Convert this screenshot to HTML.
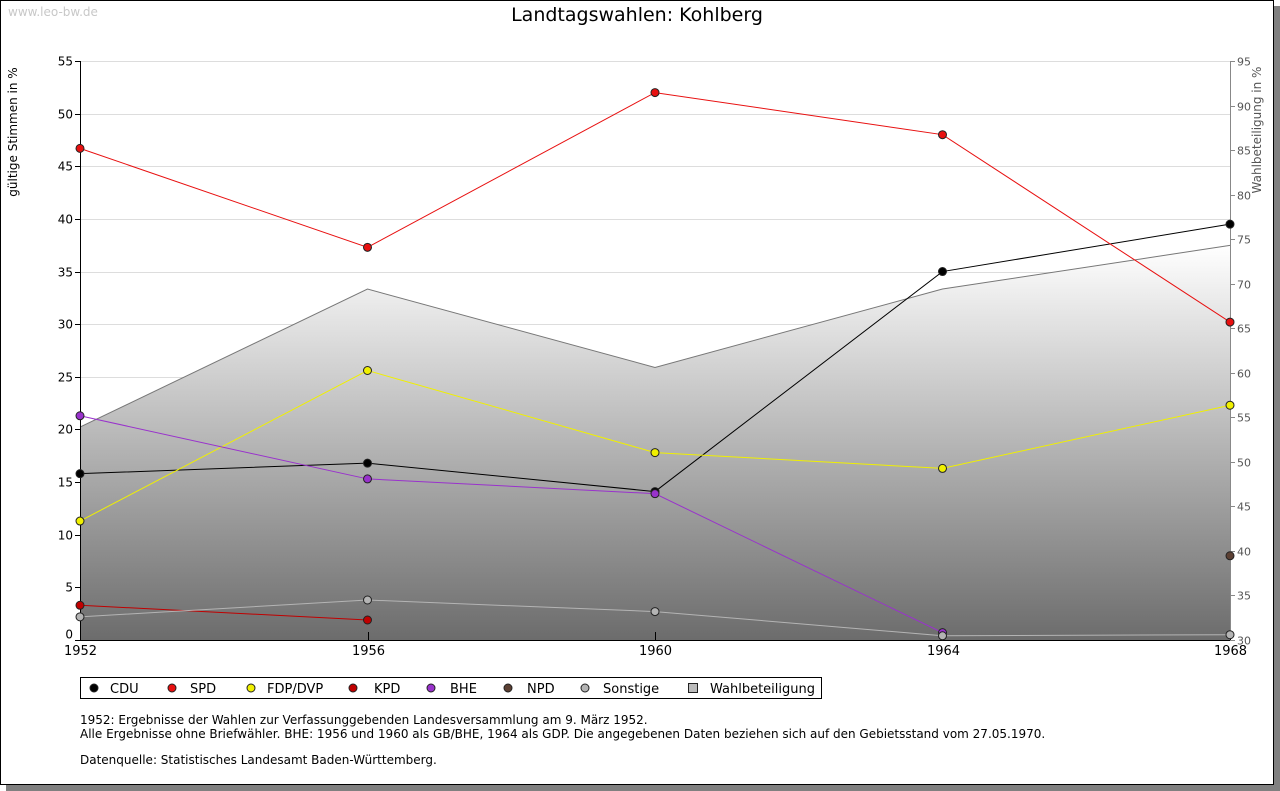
<!DOCTYPE html>
<html><head><meta charset="utf-8"><style>
body{margin:0;background:#fff;width:1280px;height:791px;overflow:hidden}
svg{display:block;font-family:"DejaVu Sans","Liberation Sans",sans-serif}
</style></head><body>
<svg id="c" width="1280" height="791">
<defs><linearGradient id="g" x1="0" y1="0" x2="0" y2="1">
<stop offset="0" stop-color="#ffffff"/><stop offset="1" stop-color="#6c6c6c"/></linearGradient></defs>
<rect x="6" y="6" width="1274" height="785" fill="#808080"/>
<rect x="0.5" y="0.5" width="1273" height="784" fill="#fff" stroke="#000"/>
<text x="8" y="16" font-size="12" fill="#c8c8c8">www.leo-bw.de</text>
<text x="637" y="21" font-size="19" text-anchor="middle">Landtagswahlen: Kohlberg</text>
<text transform="translate(17,132) rotate(-90)" font-size="12" text-anchor="middle">gültige Stimmen in %</text>
<text transform="translate(1261,130) rotate(-90)" font-size="12" text-anchor="middle" fill="#555">Wahlbeteiligung in %</text>
<g id="plot"></g>
<g>
<rect x="80.5" y="677.5" width="741" height="21" fill="#fff" stroke="#000"/>
</g>
<g id="leg"></g>
<text x="80" y="724" font-size="12">1952: Ergebnisse der Wahlen zur Verfassunggebenden Landesversammlung am 9. März 1952.</text>
<text x="80" y="738" font-size="12">Alle Ergebnisse ohne Briefwähler. BHE: 1956 und 1960 als GB/BHE, 1964 als GDP. Die angegebenen Daten beziehen sich auf den Gebietsstand vom 27.05.1970.</text>
<text x="80" y="764" font-size="12">Datenquelle: Statistisches Landesamt Baden-Württemberg.</text>
</svg>
<script>
const years=[1952,1956,1960,1964,1968];
const leftTicks=[0,5,10,15,20,25,30,35,40,45,50,55];
const rightTicks=[30,35,40,45,50,55,60,65,70,75,80,85,90,95];
const cdu=[15.8,16.8,14.1,35.0,39.5];
const spd=[46.7,37.3,52.0,48.0,30.2];
const fdp=[11.3,25.6,17.8,16.3,22.3];
const kpd=[3.3,1.9,null,null,null];
const bhe=[21.3,15.3,13.9,0.7,null];
const npd=[null,null,null,null,8.0];
const sonst=[2.2,3.8,2.7,0.4,0.5];
const turnout=[53.9,69.4,60.6,69.4,74.3];
const series=[["CDU",cdu,"#000"],["SPD",spd,"#e81010"],["FDP/DVP",fdp,"#f0f000"],["KPD",kpd,"#c00000"],["BHE",bhe,"#9932cc"],["NPD",npd,"#5c4033"],["Sonstige",sonst,"#b4b4b4"]];
const X0=80,X1=1230,Y0=640,Y1=61;
const x=y=>X0+(y-1952)/(1968-1952)*(X1-X0);
const yl=v=>Y0-v/55*(Y0-Y1);
const yr=v=>Y0-(v-30)/65*(Y0-Y1);
const NS="http://www.w3.org/2000/svg";
const P=document.getElementById('plot');
function mk(t,a,p){const e=document.createElementNS(NS,t);for(const k in a)e.setAttribute(k,a[k]);(p||P).appendChild(e);return e;}
leftTicks.forEach(t=>{const yy=Math.round(yl(t))+.5;
 if(t>0){const l=mk('line',{x1:X0,x2:X1,y1:yy,y2:yy,stroke:'#ddd'});}
 mk('line',{x1:X0-5,x2:X0,y1:yy,y2:yy,stroke:'#000'});
 const tx=mk('text',{x:X0-7,y:yy+(t===0?-2:4),'font-size':12,'text-anchor':'end'});tx.textContent=t;
 });
rightTicks.forEach(t=>{const yy=Math.round(yr(t))+.5;
 mk('line',{x1:X1,x2:X1+5,y1:yy,y2:yy,stroke:'#888'});
 const tx=mk('text',{x:X1+7,y:yy+4,'font-size':11,fill:'#555'});tx.textContent=t;
 });
let d='M'+x(years[0])+','+Y0;years.forEach((yv,i)=>d+=' L'+x(yv)+','+yr(turnout[i]));d+=' L'+x(years[4])+','+Y0+'Z';
const area=mk('path',{d:d,fill:'url(#g)'});

const tl=mk('polyline',{points:years.map((yv,i)=>x(yv)+','+yr(turnout[i])).join(' '),fill:'none',stroke:'#777'});

mk('line',{x1:X0+.5,x2:X0+.5,y1:Y1,y2:Y0,stroke:'#000'});
mk('line',{x1:X1+.5,x2:X1+.5,y1:Y1,y2:Y0,stroke:'#888'});
mk('line',{x1:X0,x2:X1,y1:Y0+.5,y2:Y0+.5,stroke:'#000'});
years.forEach(yv=>{const xx=Math.round(x(yv))+.5;mk('line',{x1:xx,x2:xx,y1:Y0-8,y2:Y0,stroke:'#000'});
 const tx=mk('text',{x:xx,y:Y0+15,'font-size':13,'text-anchor':'middle'});tx.textContent=yv;
 });
series.forEach(([n,v,c])=>{const g=mk('g',{});
 let seg=[];const flush=()=>{if(seg.length>1)mk('polyline',{points:seg.join(' '),fill:'none',stroke:c},g);seg=[];};
 v.forEach((val,i)=>{if(val==null){flush();return;}seg.push(x(years[i])+','+yl(val));});flush();
 v.forEach((val,i)=>{if(val==null)return;const p=mk('circle',{cx:x(years[i]),cy:yl(val),r:4,fill:c,stroke:'#222'},g);
  });});
const L=document.getElementById('leg');
const lx=[94,172,251,353,431,508,585],tx=[110,190,267,374,450,527,603];
series.forEach(([n,v,c],i)=>{const g=mk('g',{},L);
 mk('circle',{cx:lx[i],cy:688,r:4,fill:c,stroke:'#222'},g);const t=mk('text',{x:tx[i],y:693,'font-size':13},g);t.textContent=n;});
const g2=mk('g',{},L);
mk('rect',{x:688.5,y:683.5,width:9,height:9,fill:'#bbb',stroke:'#222'},g2);const t2=mk('text',{x:710,y:693,'font-size':13},g2);t2.textContent='Wahlbeteiligung';
</script>
</body></html>
